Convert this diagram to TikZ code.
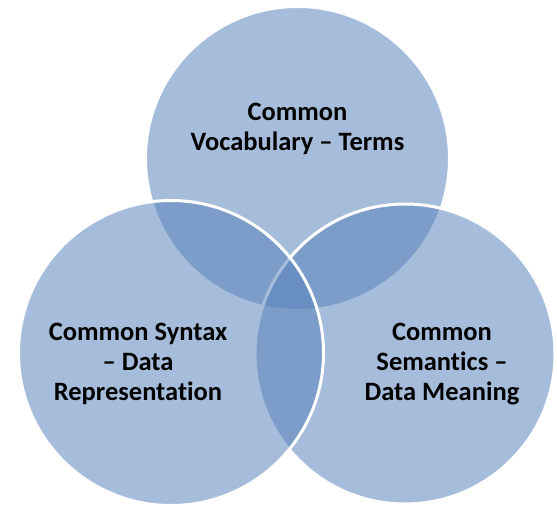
\documentclass[tikz,border=0pt]{standalone}
\usepackage{fontspec}
\setmainfont{Carlito}[Ligatures=NoCommon]
\definecolor{vennblue}{HTML}{5782BB}
\begin{document}
\begin{tikzpicture}[x=1pt,y=-1pt,
  venn/.style={circle, inner sep=0pt, outer sep=0pt, minimum size=#1,
    fill=vennblue, fill opacity=0.53, draw=white, draw opacity=1, line width=3pt},
  label/.style={align=center, text=black, text opacity=1, font=\fontsize{26.5}{30}\selectfont\bfseries}]
\useasboundingbox[fill=white] (0,0) rectangle (557,506);
\node[venn=304pt] (vocab) at (297.5,158.5) {};
\node[venn=300pt] (sem) at (405,354) {};
\node[venn=305pt] (syn) at (171,353) {};
\node[label] (tvocab) at (297.5,129) {Common\\Vocabulary -- Terms};
\node[label] (tsyn) at (138,364) {Common Syntax\\-- Data\\Representation};
\node[label] (tsem) at (442,364) {Common\\Semantics --\\Data Meaning};
\end{tikzpicture}
\end{document}
